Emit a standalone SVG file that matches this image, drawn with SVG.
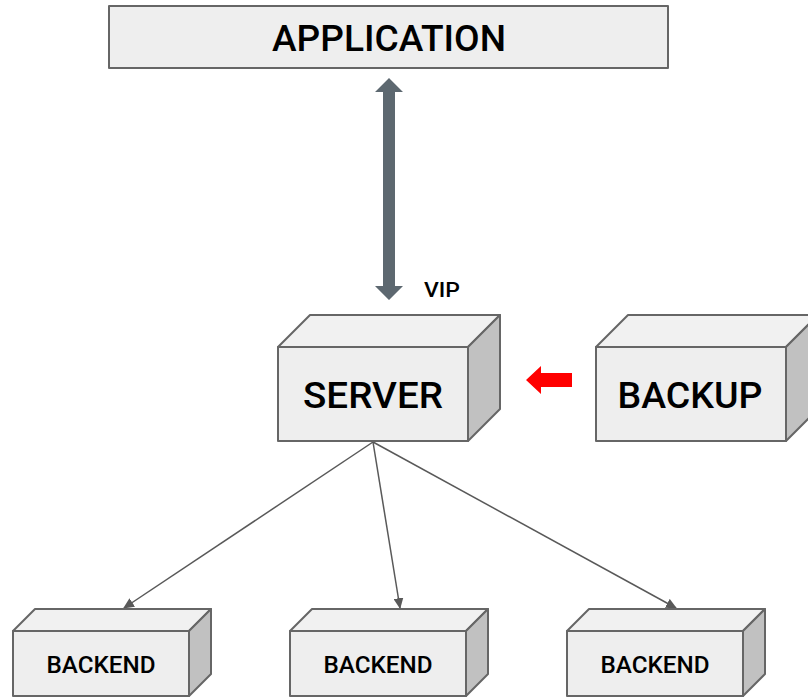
<svg xmlns="http://www.w3.org/2000/svg" width="808" height="697" viewBox="0 0 808 697">
<defs>
<style>
.face{fill:#eeeeee;stroke:#666666;stroke-width:2;stroke-linejoin:round}
.top{fill:#f1f1f1;stroke:#666666;stroke-width:2;stroke-linejoin:round}
.side{fill:#c1c1c1;stroke:#666666;stroke-width:2;stroke-linejoin:round}
.lbl{font-family:Roboto,"Liberation Sans",sans-serif;font-weight:500;fill:#000;text-anchor:middle}
.conn{stroke:#595959;stroke-width:1.5;fill:none;marker-end:url(#ah)}
</style>
<marker id="ah" viewBox="0 0 10 10" refX="9" refY="5" markerWidth="11" markerHeight="10" markerUnits="userSpaceOnUse" orient="auto" preserveAspectRatio="none">
<path d="M0,0 L10,5 L0,10 Z" fill="#595959"/>
</marker>
</defs>
<rect width="808" height="697" fill="#ffffff"/>
<g id="application">
<rect class="face" x="109" y="6" width="559" height="62"/>
<text class="lbl" x="389" y="51" font-size="36" textLength="234" lengthAdjust="spacingAndGlyphs">APPLICATION</text>
</g>
<g id="connectors">
<path d="M389,78 L403,92 L395,92 L395,286 L403,286 L389,300 L375,286 L383,286 L383,92 L375,92 Z" fill="#5d6870"/>
<path d="M526,380 L541,366 L541,373 L572,373 L572,387 L541,387 L541,394 Z" fill="#ff0000"/>
<line class="conn" x1="373" y1="442" x2="124" y2="608"/>
<line class="conn" x1="373" y1="442" x2="400" y2="608"/>
<line class="conn" x1="373" y1="442" x2="676" y2="608"/>
</g>
<text class="lbl" x="442" y="297" font-size="20" textLength="36" lengthAdjust="spacingAndGlyphs">VIP</text>
<g id="server">
<path class="top" d="M278,347 L310,315 L500,315 L468,347 Z"/>
<path class="side" d="M468,347 L500,315 L500,409 L468,441 Z"/>
<rect class="face" x="278" y="347" width="190" height="94"/>
<text class="lbl" x="373" y="408" font-size="37" textLength="140" lengthAdjust="spacingAndGlyphs">SERVER</text>
</g>
<g id="backup">
<path class="top" d="M596,347 L628,315 L818,315 L786,347 Z"/>
<path class="side" d="M786,347 L818,315 L818,409 L786,441 Z"/>
<rect class="face" x="596" y="347" width="190" height="94"/>
<text class="lbl" x="690" y="408" font-size="37" textLength="145" lengthAdjust="spacingAndGlyphs">BACKUP</text>
</g>
<g id="backend1">
<path class="top" d="M13,631 L35,609 L211,609 L189,631 Z"/>
<path class="side" d="M189,631 L211,609 L211,674 L189,696 Z"/>
<rect class="face" x="13" y="631" width="176" height="65"/>
<text class="lbl" x="101" y="673" font-size="23" textLength="109" lengthAdjust="spacingAndGlyphs">BACKEND</text>
</g>
<g id="backend2">
<path class="top" d="M290,631 L312,609 L488,609 L466,631 Z"/>
<path class="side" d="M466,631 L488,609 L488,674 L466,696 Z"/>
<rect class="face" x="290" y="631" width="176" height="65"/>
<text class="lbl" x="378" y="673" font-size="23" textLength="109" lengthAdjust="spacingAndGlyphs">BACKEND</text>
</g>
<g id="backend3">
<path class="top" d="M567,631 L589,609 L765,609 L743,631 Z"/>
<path class="side" d="M743,631 L765,609 L765,674 L743,696 Z"/>
<rect class="face" x="567" y="631" width="176" height="65"/>
<text class="lbl" x="655" y="673" font-size="23" textLength="109" lengthAdjust="spacingAndGlyphs">BACKEND</text>
</g>
</svg>
